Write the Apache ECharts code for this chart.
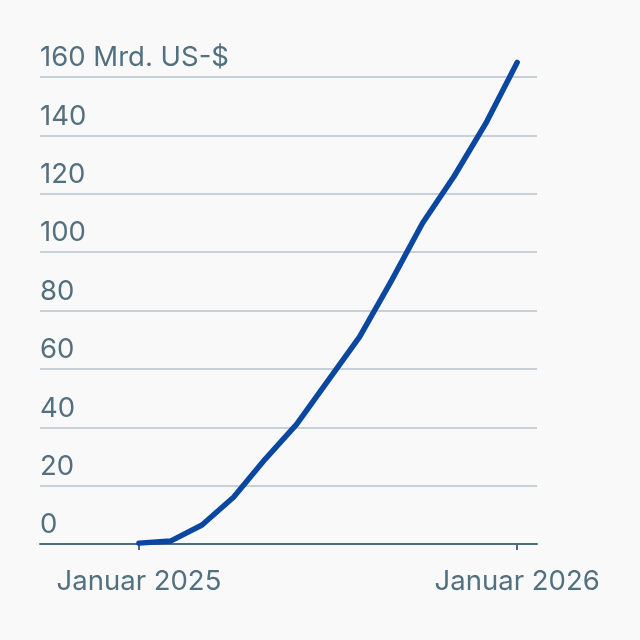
<!DOCTYPE html>
<html><head><meta charset="utf-8">
<script src="https://cdn.jsdelivr.net/npm/echarts@6/dist/echarts.min.js"></script>
<style>html,body{margin:0;padding:0;background:#f9f9f9;}#c{width:640px;height:640px;}</style>
</head><body><div id="c"></div>
<script>
const months = [0,1,2,3,4,5,6,7,8,9,10,11,12];
const values = [0.3,1,6.5,16,29,41,56,71,90,110,126,144,165];
const xTickValues = [0,12];
const xTickLabels = {0:'Januar 2025',12:'Januar 2026'};
const yTicks = [0,20,40,60,80,100,120,140,160];
const unitLabel = ' Mrd. US-$';

const chart = echarts.init(document.getElementById('c'));
chart.setOption({
  backgroundColor:'#f9f9f9',
  animation:false,
  grid:{left:40,right:103,top:77,bottom:96},
  xAxis:{type:'value',min:-3.14,max:12.63,
    axisLine:{show:true,lineStyle:{color:'#4b6b7e',width:2}},
    axisTick:{show:true,customValues:xTickValues,length:6,lineStyle:{color:'#4b6b7e',width:2}},
    axisLabel:{customValues:xTickValues,formatter:v=>xTickLabels[v]||'',color:'#52707f',fontFamily:'Inter',fontSize:27.5,margin:24},
    splitLine:{show:false}},
  yAxis:{type:'value',min:0,max:160,interval:20,
    axisLine:{show:false},axisTick:{show:false},
    axisLabel:{inside:true,margin:0,verticalAlign:'bottom',padding:[0,0,5,0],color:'#52707f',fontFamily:'Inter',fontSize:27.5,
      formatter:v=>v===160?v+unitLabel:String(v)},
    splitLine:{lineStyle:{color:'#c5d0d8',width:2}}},
  series:[{type:'line',data:months.map((m,i)=>[m,values[i]]),showSymbol:false,clip:false,
    lineStyle:{color:'#0a47a0',width:5.5,cap:'round',join:'round'}}]
});
</script></body></html>
